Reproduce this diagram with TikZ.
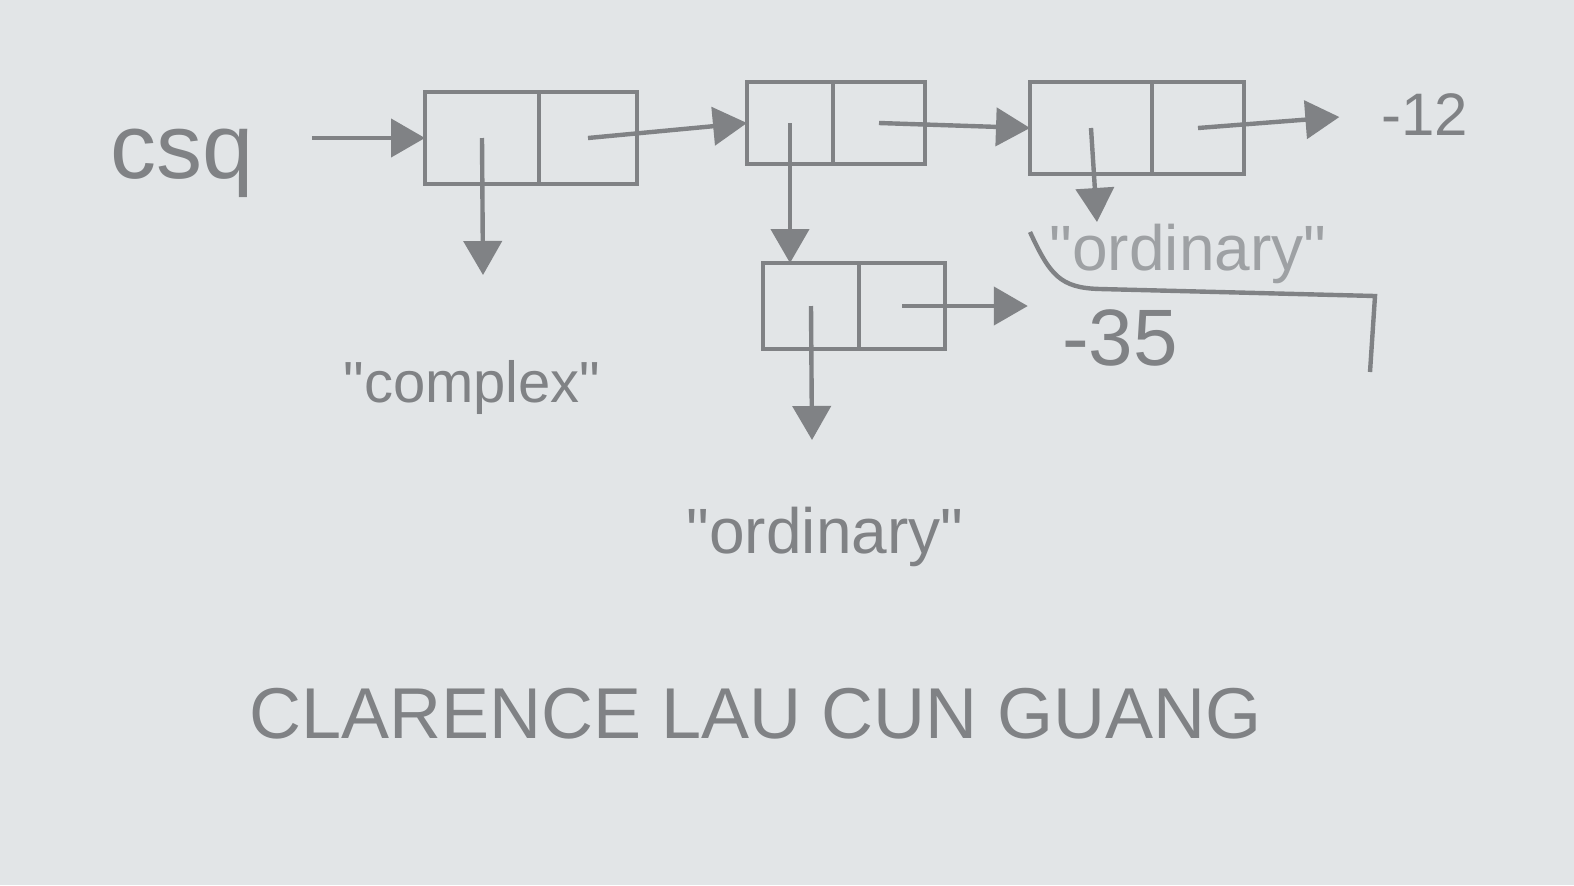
\documentclass[tikz,border=0pt]{standalone}
\usepackage{fontspec}
\setmainfont{Liberation Sans}[Ligatures=TeXOff]
\usetikzlibrary{arrows.meta,positioning}
\definecolor{paper}{RGB}{226,229,231}
\definecolor{pencil}{RGB}{128,130,133}
\definecolor{faint}{RGB}{158,161,164}
\begin{document}
\begin{tikzpicture}[x=0.5pt,y=-0.5pt,
  cell/.style={draw=pencil,line width=2.2pt,inner sep=0pt,outer sep=0pt,minimum height=46pt},
  ptr/.style={draw=pencil,line width=2.2pt,-{Triangle[length=17pt,width=19pt]}},
  lbl/.style={text=pencil,anchor=base,inner sep=2pt,font=\fontsize{#1}{#1}\selectfont}]
  \fill[paper] (0,0) rectangle (1574,885);
  \useasboundingbox (0,0) rectangle (1574,885);
  % cons cells
  \node[cell,minimum width=57pt] (c1a) at (482,138) {};
  \node[cell,minimum width=49pt,right=0pt of c1a] (c1b) {};
  \node[cell,minimum width=43pt,minimum height=41pt] (c2a) at (790,123) {};
  \node[cell,minimum width=46pt,minimum height=41pt,right=0pt of c2a] (c2b) {};
  \node[cell,minimum width=61pt] (c3a) at (1091,128) {};
  \node[cell,minimum width=46pt,right=0pt of c3a] (c3b) {};
  \node[cell,minimum width=48pt,minimum height=43pt] (c4a) at (811,306) {};
  \node[cell,minimum width=43pt,minimum height=43pt,right=0pt of c4a] (c4b) {};
  % labels
  \node[lbl=46pt] (csq) at (182,178) {csq};
  \node[lbl=30pt] (m12) at (1425,135) {-12};
  \node[lbl=40pt] (m35) at (1120,365) {-35};
  \node[lbl=29pt] (cpx) at (472,402) {"complex"};
  \node[lbl=32pt] (ord) at (825,553) {"ordinary"};
  \node[lbl=32pt,text=faint] (ordold) at (1188,270) {"ordinary"};
  \node[lbl=36pt] (name) at (756,738) {CLARENCE LAU CUN GUANG};
  % free ends
  \coordinate (e1) at (483,275);
  \coordinate (e3) at (1097,222);
  \coordinate (e4) at (812,440);
  % pointers
  \draw[ptr,shorten <=27pt] (csq.east |- c1a.west) -- (c1a.west);
  \draw[ptr] (c1b.center) -- (c2a.west);
  \draw[ptr] (c2b.center) -- (c3a.west);
  \draw[ptr,shorten >=19pt] (c3b.center) -- (m12.west);
  \draw[ptr,shorten >=15pt] (c4b.center) -- (c4b.center -| m35.west);
  \draw[ptr] (c1a.center) -- (e1);
  \draw[ptr] (c2a.center) -- (c2a.center |- c4a.north);
  \draw[ptr] (c3a.center) -- (e3);
  \draw[ptr] (c4a.center) -- (e4);
  \draw[pencil,line width=2.2pt] (1030,232) .. controls (1050,275) and (1060,288) .. (1100,289) -- (1375,296) -- (1370,372);
\end{tikzpicture}
\end{document}
